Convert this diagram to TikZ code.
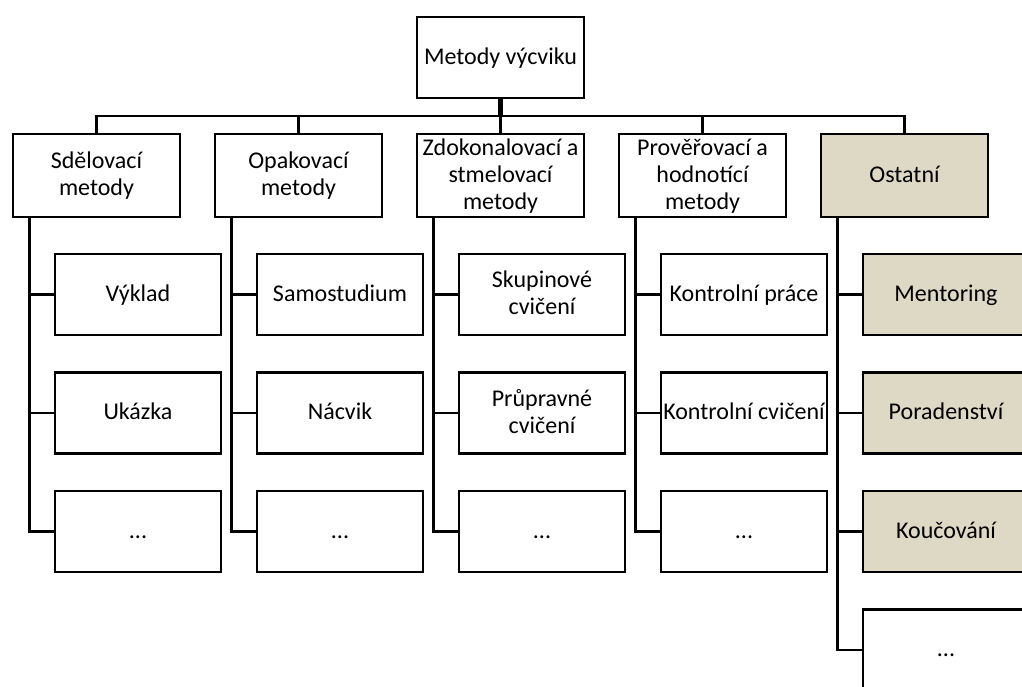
\documentclass[tikz,border=0pt]{standalone}
\usepackage{fontspec}
\setmainfont{Carlito}
\definecolor{tan}{RGB}{221,217,196}
\newcommand\st{\rule[-7pt]{0pt}{27pt}}
\begin{document}
\begin{tikzpicture}[x=1pt,y=-1pt,
  base/.style={draw=black, line width=2.75pt, fill=white, inner sep=0pt, align=center,
    font=\fontsize{24}{27}\selectfont, text=black},
  topbox/.style={base, minimum width=167pt, minimum height=81pt},
  lvlbox/.style={base, minimum width=167pt, minimum height=83pt},
  leafbox/.style={base, minimum width=166pt, minimum height=81pt},
  other/.style={fill=tan},
  conn/.style={draw=black, line width=2.75pt},
  stem/.style={draw=black, line width=5.5pt}
]
\clip (0,0) rectangle (1022,686);
\fill[white] (0,0) rectangle (1022,686);

% root
\node[topbox] (root) at (500.5,57.5) {\st Metody výcviku};
\coordinate (bar) at (500.5,116);

% level 1
\node[lvlbox] (a) at (96.5,175.5) {\st Sdělovací\\\st metody};
\node[lvlbox] (b) at (298.5,175.5) {\st Opakovací\\\st metody};
\node[lvlbox] (c) at (500.5,175.5) {\st Zdokonalovací a\\\st stmelovací\\\st metody};
\node[lvlbox] (d) at (702.5,175.5) {\st Prověřovací a\\\st hodnotící\\\st metody};
\node[lvlbox,other] (e) at (904.5,175.5) {\st Ostatní};

% leaves
\node[leafbox] (a1) at (138,294.5) {\st Výklad};
\node[leafbox] (a2) at (138,413) {\st Ukázka};
\node[leafbox] (a3) at (138,531.5) {\st ...};

\node[leafbox] (b1) at (340,294.5) {\st Samostudium};
\node[leafbox] (b2) at (340,413) {\st Nácvik};
\node[leafbox] (b3) at (340,531.5) {\st ...};

\node[leafbox] (c1) at (542,294.5) {\st Skupinové\\\st cvičení};
\node[leafbox] (c2) at (542,413) {\st Průpravné\\\st cvičení};
\node[leafbox] (c3) at (542,531.5) {\st ...};

\node[leafbox] (d1) at (744,294.5) {\st Kontrolní práce};
\node[leafbox] (d2) at (744,413) {\st Kontrolní cvičení};
\node[leafbox] (d3) at (744,531.5) {\st ...};

\node[leafbox,other] (e1) at (946,294.5) {\st Mentoring};
\node[leafbox,other] (e2) at (946,413) {\st Poradenství};
\node[leafbox,other] (e3) at (946,531.5) {\st Koučování};
\node[leafbox] (e4) at (946,650) {\st ...};

% connectors root -> level 1
\draw[stem] (root.south) -- (bar);
\foreach \n in {a,b,c,d,e} {
  \draw[conn] (\n.north) |- (bar);
}

% connectors level 1 -> leaves
\foreach \p/\l in {a/a1,a/a2,a/a3,b/b1,b/b2,b/b3,c/c1,c/c2,c/c3,d/d1,d/d2,d/d3,e/e1,e/e2,e/e3,e/e4} {
  \draw[conn] ([xshift=18pt]\p.south west) |- (\l.west);
}
\end{tikzpicture}
\end{document}
